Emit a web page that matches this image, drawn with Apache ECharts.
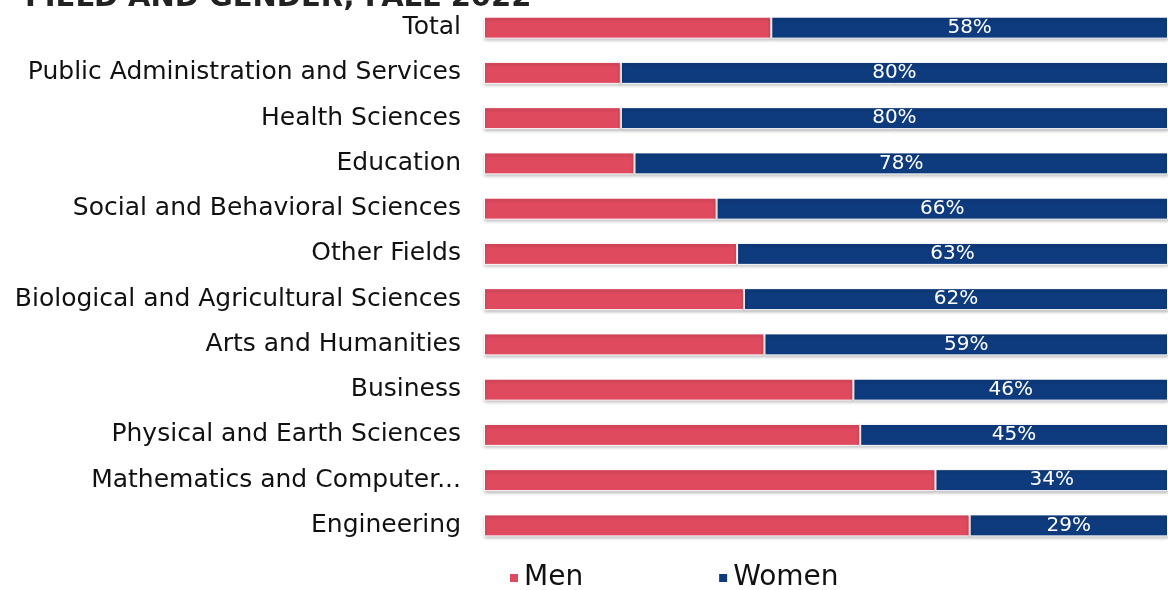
<!DOCTYPE html>
<html>
<head>
<meta charset="utf-8">
<script src="https://cdn.jsdelivr.net/npm/echarts@6/dist/echarts.min.js"></script>
<style>
    * { margin: 0; padding: 0; }
    body { background: #fff; }
    #main { width: 1168px; height: 590px; }
</style>
</head>
<body>
<div id="main"></div>
<script>
    // categories, top to bottom
    const fields = [
        'Total',
        'Public Administration and Services',
        'Health Sciences',
        'Education',
        'Social and Behavioral Sciences',
        'Other Fields',
        'Biological and Agricultural Sciences',
        'Arts and Humanities',
        'Business',
        'Physical and Earth Sciences',
        'Mathematics and Computer...',
        'Engineering'
    ]
    const menPct = [42, 20, 20, 22, 34, 37, 38, 41, 54, 55, 66, 71]
    const womenPct = [58, 80, 80, 78, 66, 63, 62, 59, 46, 45, 34, 29]

    const font = 'DejaVu Sans'
    let myChart = echarts.init(document.getElementById('main'))
    let option = {
        backgroundColor: '#fff',
        title: {
            text: 'FIELD AND GENDER, FALL 2022',
            left: 20,
            top: -21,
            textStyle: {
                fontFamily: font,
                fontWeight: 'bold',
                fontSize: 29,
                color: '#222'
            }
        },
        legend: {
            left: 503,
            top: 559,
            itemWidth: 10,
            itemHeight: 10,
            itemGap: 134,
            icon: 'rect',
            textStyle: {
                fontFamily: font,
                fontSize: 28,
                color: '#111'
            },
            data: ['Men', 'Women']
        },
        grid: {
            left: 484,
            right: 0,
            top: 5,
            bottom: 42
        },
        xAxis: {
            type: 'value',
            min: 0,
            max: 100,
            show: false
        },
        yAxis: {
            type: 'category',
            inverse: true,
            data: fields,
            axisLine: { show: false },
            axisTick: { show: false },
            axisLabel: {
                margin: 23,
                fontFamily: font,
                fontSize: 25,
                color: '#111'
            }
        },
        series: [
            {
                name: 'Men',
                type: 'bar',
                stack: 'all',
                barWidth: 22,
                data: menPct,
                itemStyle: {
                    color: '#e04a5f',
                    borderColor: '#fff',
                    borderWidth: 1,
                    shadowColor: 'rgba(0,0,0,0.25)',
                    shadowBlur: 3,
                    shadowOffsetY: 2
                }
            },
            {
                name: 'Women',
                type: 'bar',
                stack: 'all',
                barWidth: 22,
                data: womenPct,
                itemStyle: {
                    color: '#0e3b7d',
                    borderColor: '#fff',
                    borderWidth: 1,
                    shadowColor: 'rgba(0,0,0,0.25)',
                    shadowBlur: 3,
                    shadowOffsetY: 2
                },
                label: {
                    show: true,
                    position: 'inside',
                    formatter: '{c}%',
                    fontFamily: font,
                    fontSize: 20,
                    color: '#fff'
                }
            }
        ]
    }
    myChart.setOption(option)
</script>
</body>
</html>
